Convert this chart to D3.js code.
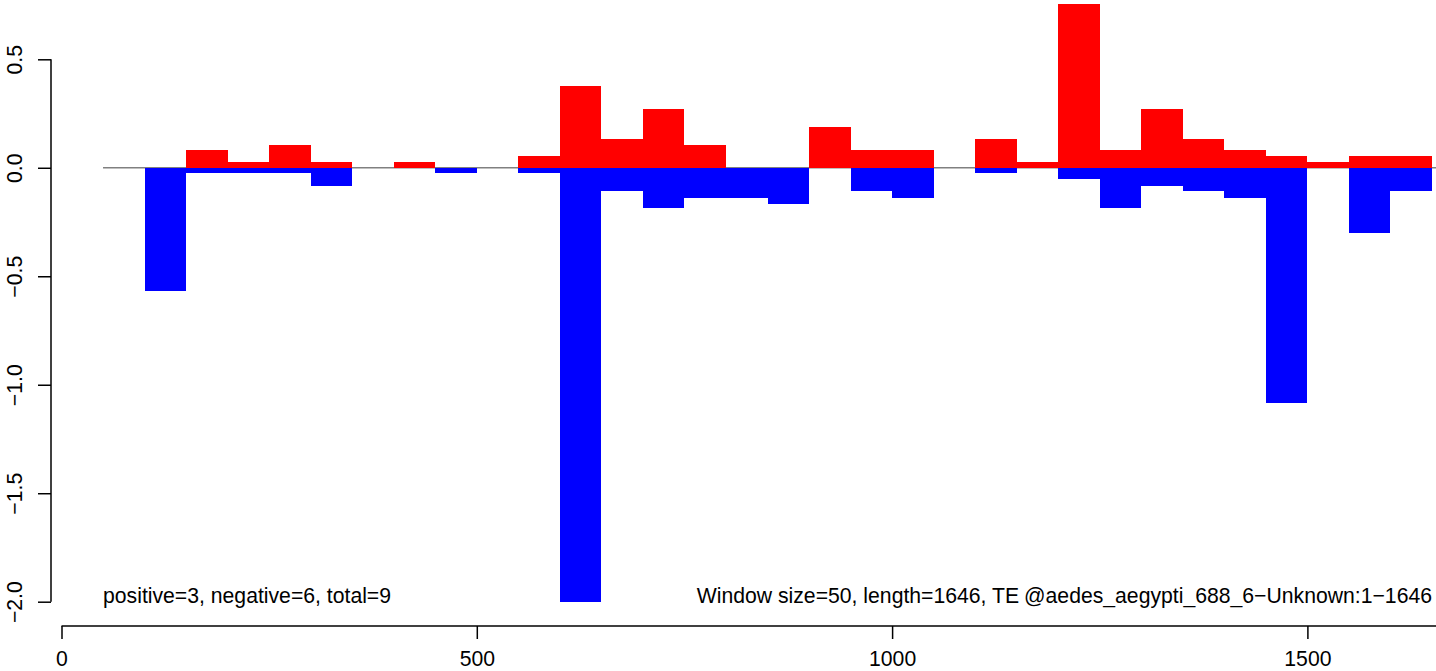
<!DOCTYPE html>
<html>
<head>
<meta charset="utf-8">
<script src="https://cdn.jsdelivr.net/npm/d3@7"></script>
<style>
  html, body { margin: 0; padding: 0; background: #fff; }
  svg { display: block; }
  text { font-family: "Liberation Sans", Arial, Helvetica, sans-serif; }
</style>
</head>
<body>
<script>
// ---- data ----
const windowSize = 50;
const windowStarts = [50, 100, 150, 200, 250, 300, 350, 400, 450, 500, 550, 600, 650, 700, 750, 800, 850, 900, 950, 1000, 1050, 1100, 1150, 1200, 1250, 1300, 1350, 1400, 1450, 1500, 1550, 1600];
const positiveValues = [0, 0, 0.082, 0.026, 0.105, 0.026, 0, 0.026, 0, 0, 0.054, 0.377, 0.132, 0.270, 0.105, 0, 0, 0.189, 0.082, 0.082, 0, 0.132, 0.026, 0.755, 0.082, 0.270, 0.132, 0.082, 0.054, 0.026, 0.054, 0.054];
const negativeValues = [0, -0.567, -0.026, -0.026, -0.026, -0.083, 0, 0, -0.026, 0, -0.026, -2.0, -0.109, -0.1875, -0.137, -0.137, -0.166, 0, -0.109, -0.137, 0, -0.026, 0, -0.054, -0.1875, -0.082, -0.109, -0.137, -1.084, 0, -0.300, -0.109];
const xTickValues = [0, 500, 1000, 1500];
const yTickValues = [0.5, 0.0, -0.5, -1.0, -1.5, -2.0];
const leftNote = "positive=3, negative=6, total=9";
const rightNoteA = "Window size=50, length=1646, TE";
const rightNoteB = "@aedes_aegypti_688_6\u2212Unknown:1\u22121646";

// ---- layout ----
const W = 1436, H = 671;
const svg = d3.select("body").append("svg").attr("width", W).attr("height", H);

const x = d3.scaleLinear().domain([0, 1500]).range([61.5, 1307.4]);
const y = d3.scaleLinear().domain([0.5, -2.0]).range([59.3, 601.7]);
const fmtY = v => (v < 0 ? "\u2212" : "") + Math.abs(v).toFixed(1);

// baseline at zero
svg.append("line")
  .attr("x1", x(50)).attr("x2", W)
  .attr("y1", y(0)).attr("y2", y(0))
  .attr("stroke", "#808080").attr("stroke-width", 1.5);

const rows = windowStarts.map((s, i) => ({ s, pos: positiveValues[i], neg: negativeValues[i] }));

// positive bars (red)
svg.append("g").selectAll("rect").data(rows.filter(d => d.pos > 0)).join("rect")
  .attr("x", d => x(d.s))
  .attr("width", d => x(d.s + windowSize) - x(d.s))
  .attr("y", d => y(d.pos))
  .attr("height", d => y(0) - y(d.pos))
  .attr("fill", "#ff0000")
  .attr("shape-rendering", "crispEdges");

// negative bars (blue)
svg.append("g").selectAll("rect").data(rows.filter(d => d.neg < 0)).join("rect")
  .attr("x", d => x(d.s))
  .attr("width", d => x(d.s + windowSize) - x(d.s))
  .attr("y", y(0))
  .attr("height", d => y(d.neg) - y(0))
  .attr("fill", "#0000ff")
  .attr("shape-rendering", "crispEdges");

// x axis
const xAxisY = 626;
const gx = svg.append("g").attr("transform", `translate(0,${xAxisY})`)
  .call(d3.axisBottom(x).tickValues(xTickValues).tickSize(13).tickFormat(d3.format("d")));
gx.select(".domain").remove();
gx.selectAll(".tick line").attr("stroke", "#000").attr("stroke-width", 1.5);
gx.selectAll(".tick text").attr("font-size", "21.2px").attr("fill", "#000")
  .attr("font-family", "'Liberation Sans', Arial, sans-serif")
  .attr("y", 40).attr("dy", null);
gx.append("line").attr("x1", x(0)).attr("x2", W).attr("y1", 0).attr("y2", 0)
  .attr("stroke", "#000").attr("stroke-width", 1.5);

// y axis
const yAxisX = 51;
const gy = svg.append("g").attr("transform", `translate(${yAxisX},0)`)
  .call(d3.axisLeft(y).tickValues(yTickValues).tickSize(13).tickFormat(fmtY));
gy.select(".domain").remove();
gy.append("line").attr("x1", 0).attr("x2", 0).attr("y1", y(0.5)).attr("y2", y(-2.0))
  .attr("stroke", "#000").attr("stroke-width", 1.5);
gy.selectAll(".tick line").attr("stroke", "#000").attr("stroke-width", 1.5);
gy.selectAll(".tick text")
  .attr("font-size", "21.2px").attr("fill", "#000")
  .attr("font-family", "'Liberation Sans', Arial, sans-serif")
  .attr("x", null).attr("dy", null)
  .attr("text-anchor", "middle")
  .attr("transform", "translate(-29,0) rotate(-90)");

// annotations
svg.append("text").attr("x", x(50)).attr("y", 603)
  .attr("font-size", "21.2px").attr("fill", "#000").text(leftNote);
const rt = svg.append("text").attr("x", x(1650)).attr("y", 603)
  .attr("text-anchor", "end")
  .attr("font-size", "21.2px").attr("fill", "#000");
rt.append("tspan").text(rightNoteA);
rt.append("tspan").attr("dx", 5).text(rightNoteB);
</script>
</body>
</html>
